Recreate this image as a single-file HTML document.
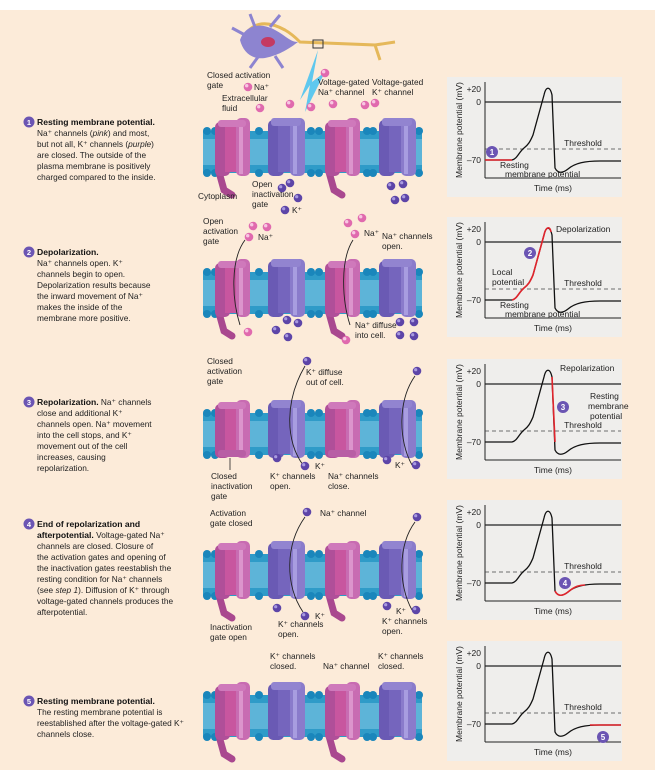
<!DOCTYPE html>
<html><head><meta charset="utf-8"><style>
html,body{margin:0;padding:0;background:#fff;}
svg{display:block;font-family:"Liberation Sans",Arial,sans-serif;}
.t{font-size:8.3px;fill:#222;}
.b{font-size:8.6px;font-weight:bold;fill:#111;}
.s{font-size:8.3px;fill:#222;}
.g{font-size:8.5px;fill:#222;}
</style></head><body>
<svg width="670" height="784" viewBox="0 0 670 784" xmlns="http://www.w3.org/2000/svg">
<defs>
  <g id="mem">
    <rect x="203" y="131" width="219" height="42" fill="#2f9bc8"/>
    <rect x="203" y="139" width="219" height="26" fill="#5db4d8"/>
    <g fill="#1a86bb">
      <circle cx="207" cy="131" r="4"/><circle cx="215" cy="131" r="4"/><circle cx="259" cy="131" r="4"/><circle cx="311" cy="131" r="4"/><circle cx="319" cy="131" r="4"/><circle cx="367" cy="131" r="4"/><circle cx="373" cy="131" r="4"/><circle cx="419" cy="131" r="4"/>
      <circle cx="207" cy="173" r="4"/><circle cx="215" cy="173" r="4"/><circle cx="259" cy="173" r="4"/><circle cx="311" cy="173" r="4"/><circle cx="319" cy="173" r="4"/><circle cx="367" cy="173" r="4"/><circle cx="373" cy="173" r="4"/><circle cx="419" cy="173" r="4"/>
    </g>
  </g>
  <g id="na">
    <path d="M4 54 L9 72 L17 77" stroke="#a9488f" stroke-width="7" fill="none" stroke-linecap="round"/>
    <rect x="0" y="4" width="15" height="54" rx="5" fill="#b04f99"/>
    <rect x="10" y="8" width="15" height="46" fill="#c8569f"/>
    <rect x="21" y="0" width="14" height="58" rx="5" fill="#c86cb2"/>
    <rect x="24" y="2" width="4" height="54" fill="#dc95cc"/>
    <rect x="3" y="2" width="28" height="7" rx="3" fill="#cf79bb"/>
  </g>
  <g id="nac">
    <rect x="0" y="4" width="15" height="54" rx="5" fill="#b04f99"/>
    <rect x="10" y="8" width="15" height="46" fill="#c8569f"/>
    <rect x="21" y="0" width="14" height="58" rx="5" fill="#c86cb2"/>
    <rect x="24" y="2" width="4" height="54" fill="#dc95cc"/>
    <rect x="3" y="2" width="28" height="7" rx="3" fill="#cf79bb"/>
    <rect x="3" y="50" width="28" height="7" rx="3" fill="#b85ea5"/>
  </g>
  <g id="k">
    <rect x="0" y="2" width="16" height="56" rx="5" fill="#6a5ab4"/>
    <rect x="10" y="8" width="17" height="46" fill="#7565bd"/>
    <rect x="22" y="0" width="15" height="58" rx="5" fill="#8a7bcb"/>
    <rect x="25" y="2" width="4" height="54" fill="#a89de0"/>
    <rect x="3" y="0" width="30" height="8" rx="3" fill="#9284d0"/>
  </g>
  <g id="graph">
    <rect x="447" y="77" width="175" height="120" fill="#efeeec"/>
    <line x1="485" y1="82" x2="485" y2="178" stroke="#222" stroke-width="1"/>
    <line x1="485" y1="178" x2="621" y2="178" stroke="#222" stroke-width="1"/>
    <line x1="485" y1="102" x2="621" y2="102" stroke="#222" stroke-width="1.2"/>
    <line x1="485" y1="149" x2="621" y2="149" stroke="#444" stroke-width="0.8" stroke-dasharray="4,3"/>
    <path d="M485 160 L512 160 C517 159 519 152 524 148 C528 145 530 142 533 135 L544 95 C546 86 550 86 552 95 L555 168 C558 174 563 173 568 169 C575 163 585 161 600 161 L621 161" stroke="#111" stroke-width="1.3" fill="none"/>
    <text x="481" y="92" text-anchor="end" class="g">+20</text>
    <text x="481" y="105" text-anchor="end" class="g">0</text>
    <text x="481" y="163" text-anchor="end" class="g">–70</text>
    <text x="553" y="191" text-anchor="middle" class="g">Time (ms)</text>
    <text transform="translate(462,130) rotate(-90)" text-anchor="middle" class="g">Membrane potential (mV)</text>
    <text x="583" y="146" text-anchor="middle" class="g">Threshold</text>
  </g>
  <g id="pi"><circle r="4.3" fill="#e06aae"/><circle r="1.7" cx="-1.3" cy="-1.3" fill="#f8c7e2"/></g>
  <g id="ki"><circle r="4.3" fill="#5d45a8"/><circle r="1.6" cx="-1.3" cy="-1.3" fill="#a99be0"/></g>
</defs>
<rect x="0" y="10" width="655" height="760" fill="#fcebd9"/>

<!-- neuron -->
<path d="M245 35 C255 20 270 22 285 30 C292 34 296 38 300 42 L375 45 L380 60 M375 45 L395 42" stroke="#e5b85a" stroke-width="3" fill="none"/>
<path d="M240 40 C245 25 260 22 275 30 C285 35 290 42 298 42 C290 48 280 55 265 58 C252 60 243 52 240 40 Z" fill="#8d84d0"/>
<path d="M245 35 L232 28 M255 27 L250 14 M270 27 L280 15 M258 57 L250 68 M275 56 L283 68" stroke="#8d84d0" stroke-width="3"/>
<ellipse cx="268" cy="42" rx="7" ry="5" fill="#c43a62"/>
<rect x="313" y="40" width="10" height="8" fill="none" stroke="#333" stroke-width="1"/>
<path d="M318 50 L300 100 L310 85 L305 112 L325 72 L312 82 Z" fill="#5fc8ee"/>

<!-- rows -->
<g><use href="#mem"/><use href="#na" x="215" y="118"/><use href="#k" x="268" y="118"/><use href="#na" x="325" y="118"/><use href="#k" x="379" y="118"/></g>
<g transform="translate(0,141)"><use href="#mem"/><use href="#na" x="215" y="118"/><use href="#k" x="268" y="118"/><use href="#na" x="325" y="118"/><use href="#k" x="379" y="118"/></g>
<g transform="translate(0,282)"><use href="#mem"/><use href="#nac" x="215" y="118"/><use href="#k" x="268" y="118"/><use href="#nac" x="325" y="118"/><use href="#k" x="379" y="118"/></g>
<g transform="translate(0,423)"><use href="#mem"/><use href="#na" x="215" y="118"/><use href="#k" x="268" y="118"/><use href="#na" x="325" y="118"/><use href="#k" x="379" y="118"/></g>
<g transform="translate(0,564)"><use href="#mem"/><use href="#na" x="215" y="118"/><use href="#k" x="268" y="118"/><use href="#na" x="325" y="118"/><use href="#k" x="379" y="118"/></g>

<!-- graphs -->
<use href="#graph"/>
<path d="M485 160 L512 160" stroke="#e0242c" stroke-width="1.6"/>
<text x="500" y="168" class="g">Resting</text><text x="505" y="177" class="g">membrane potential</text>
<circle cx="492" cy="152" r="6" fill="#6b55b3"/><text x="492" y="155" text-anchor="middle" style="font-size:8px;fill:#fff;font-weight:bold">1</text>

<g transform="translate(0,140)"><use href="#graph"/>
<path d="M512 160 C517 159 519 152 524 148 C528 145 530 142 533 135 L544 95 C546 86 550 86 551 92" stroke="#e0242c" stroke-width="1.6" fill="none"/>
<text x="500" y="168" class="g">Resting</text><text x="505" y="177" class="g">membrane potential</text>
<text x="492" y="135" class="g">Local</text><text x="492" y="145" class="g">potential</text>
<text x="556" y="92" class="g">Depolarization</text>
<circle cx="530" cy="113" r="6" fill="#6b55b3"/><text x="530" y="116" text-anchor="middle" style="font-size:8px;fill:#fff;font-weight:bold">2</text></g>

<g transform="translate(0,282)"><use href="#graph"/>
<path d="M552 95 L555 160" stroke="#e0242c" stroke-width="1.6" fill="none"/>
<text x="560" y="89" class="g">Repolarization</text>
<text x="590" y="117" class="g">Resting</text><text x="588" y="127" class="g">membrane</text><text x="590" y="137" class="g">potential</text>
<circle cx="563" cy="125" r="6" fill="#6b55b3"/><text x="563" y="128" text-anchor="middle" style="font-size:8px;fill:#fff;font-weight:bold">3</text></g>

<g transform="translate(0,423)"><use href="#graph"/>
<path d="M555 168 C558 174 563 173 568 169 C575 163 580 162 585 162" stroke="#e0242c" stroke-width="1.6" fill="none"/>
<circle cx="565" cy="160" r="6" fill="#6b55b3"/><text x="565" y="163" text-anchor="middle" style="font-size:8px;fill:#fff;font-weight:bold">4</text></g>

<g transform="translate(0,564)"><use href="#graph"/>
<path d="M590 161 L621 161" stroke="#e0242c" stroke-width="1.6"/>
<circle cx="603" cy="173" r="6" fill="#6b55b3"/><text x="603" y="176" text-anchor="middle" style="font-size:8px;fill:#fff;font-weight:bold">5</text></g>

<!-- left text -->
<g>
<circle cx="29" cy="122" r="5.5" fill="#6b55b3"/><text x="29" y="125" text-anchor="middle" style="font-size:7.5px;fill:#fff;font-weight:bold">1</text>
<text x="37" y="125" class="b">Resting membrane potential.</text>
<text x="37" y="136" class="t">Na⁺ channels (<tspan font-style="italic">pink</tspan>) and most,</text>
<text x="37" y="147" class="t">but not all, K⁺ channels (<tspan font-style="italic">purple</tspan>)</text>
<text x="37" y="158" class="t">are closed. The outside of the</text>
<text x="37" y="169" class="t">plasma membrane is positively</text>
<text x="37" y="180" class="t">charged compared to the inside.</text>

<circle cx="29" cy="252" r="5.5" fill="#6b55b3"/><text x="29" y="255" text-anchor="middle" style="font-size:7.5px;fill:#fff;font-weight:bold">2</text>
<text x="37" y="255" class="b">Depolarization.</text>
<text x="37" y="266" class="t">Na⁺ channels open. K⁺</text>
<text x="37" y="277" class="t">channels begin to open.</text>
<text x="37" y="288" class="t">Depolarization results because</text>
<text x="37" y="299" class="t">the inward movement of Na⁺</text>
<text x="37" y="310" class="t">makes the inside of the</text>
<text x="37" y="321" class="t">membrane more positive.</text>

<circle cx="29" cy="402" r="5.5" fill="#6b55b3"/><text x="29" y="405" text-anchor="middle" style="font-size:7.5px;fill:#fff;font-weight:bold">3</text>
<text x="37" y="405" class="b">Repolarization.<tspan class="t" font-weight="normal">  Na⁺ channels</tspan></text>
<text x="37" y="416" class="t">close and additional K⁺</text>
<text x="37" y="427" class="t">channels open. Na⁺ movement</text>
<text x="37" y="438" class="t">into the cell stops, and K⁺</text>
<text x="37" y="449" class="t">movement out of the cell</text>
<text x="37" y="460" class="t">increases, causing</text>
<text x="37" y="471" class="t">repolarization.</text>

<circle cx="29" cy="524" r="5.5" fill="#6b55b3"/><text x="29" y="527" text-anchor="middle" style="font-size:7.5px;fill:#fff;font-weight:bold">4</text>
<text x="37" y="527" class="b">End of repolarization and</text>
<text x="37" y="538" class="b">afterpotential.<tspan class="t" font-weight="normal"> Voltage-gated Na⁺</tspan></text>
<text x="37" y="549" class="t">channels are closed. Closure of</text>
<text x="37" y="560" class="t">the activation gates and opening of</text>
<text x="37" y="571" class="t">the inactivation gates reestablish the</text>
<text x="37" y="582" class="t">resting condition for Na⁺ channels</text>
<text x="37" y="593" class="t">(see <tspan font-style="italic">step 1</tspan>).  Diffusion of K⁺ through</text>
<text x="37" y="604" class="t">voltage-gated channels produces the</text>
<text x="37" y="615" class="t">afterpotential.</text>

<circle cx="29" cy="701" r="5.5" fill="#6b55b3"/><text x="29" y="704" text-anchor="middle" style="font-size:7.5px;fill:#fff;font-weight:bold">5</text>
<text x="37" y="704" class="b">Resting membrane potential.</text>
<text x="37" y="715" class="t">The resting membrane potential is</text>
<text x="37" y="726" class="t">reestablished after the voltage-gated K⁺</text>
<text x="37" y="737" class="t">channels close.</text>
</g>

<!-- membrane labels -->
<g class="s">
<text x="207" y="78" class="s">Closed activation</text><text x="207" y="88" class="s">gate</text>
<use href="#pi" x="248" y="87"/><text x="254" y="90" class="s">Na⁺</text>
<text x="222" y="101" class="s">Extracellular</text><text x="222" y="111" class="s">fluid</text>
<text x="318" y="85" class="s">Voltage-gated</text><text x="318" y="95" class="s">Na⁺ channel</text>
<text x="372" y="85" class="s">Voltage-gated</text><text x="372" y="95" class="s">K⁺ channel</text>
<use href="#pi" x="260" y="108"/><use href="#pi" x="290" y="104"/><use href="#pi" x="311" y="107"/><use href="#pi" x="333" y="104"/><use href="#pi" x="365" y="105"/><use href="#pi" x="375" y="103"/><use href="#pi" x="325" y="73"/>
<text x="198" y="199" class="s">Cytoplasm</text>
<text x="252" y="187" class="s">Open</text><text x="252" y="197" class="s">inactivation</text><text x="252" y="207" class="s">gate</text>
<use href="#ki" x="282" y="188"/><use href="#ki" x="290" y="183"/><use href="#ki" x="298" y="198"/><use href="#ki" x="285" y="210"/><text x="292" y="213" class="s">K⁺</text>
<use href="#ki" x="391" y="186"/><use href="#ki" x="403" y="184"/><use href="#ki" x="395" y="200"/><use href="#ki" x="405" y="198"/>

<text x="203" y="224" class="s">Open</text><text x="203" y="234" class="s">activation</text><text x="203" y="244" class="s">gate</text>
<use href="#pi" x="253" y="226"/><use href="#pi" x="267" y="227"/><use href="#pi" x="249" y="237"/><text x="258" y="240" class="s">Na⁺</text>
<use href="#pi" x="348" y="223"/><use href="#pi" x="362" y="218"/><use href="#pi" x="355" y="234"/><text x="364" y="236" class="s">Na⁺</text>
<text x="382" y="239" class="s">Na⁺ channels</text><text x="382" y="249" class="s">open.</text>
<path d="M245 240 C230 260 232 300 240 325" stroke="#222" fill="none" stroke-width="0.9"/>
<path d="M353 240 C340 260 342 300 350 325" stroke="#222" fill="none" stroke-width="0.9"/>
<use href="#pi" x="248" y="332"/><use href="#pi" x="346" y="340"/>
<use href="#ki" x="287" y="320"/><use href="#ki" x="298" y="323"/><use href="#ki" x="276" y="330"/><use href="#ki" x="288" y="337"/>
<use href="#ki" x="400" y="322"/><use href="#ki" x="414" y="322"/><use href="#ki" x="400" y="335"/><use href="#ki" x="414" y="336"/>
<text x="355" y="328" class="s">Na⁺ diffuse</text><text x="355" y="338" class="s">into cell.</text>

<text x="207" y="364" class="s">Closed</text><text x="207" y="374" class="s">activation</text><text x="207" y="384" class="s">gate</text>
<use href="#ki" x="307" y="361"/><text x="306" y="375" class="s">K⁺ diffuse</text><text x="306" y="385" class="s">out of cell.</text>
<use href="#ki" x="417" y="371"/>
<path d="M303 465 C285 440 285 400 305 366" stroke="#222" fill="none" stroke-width="0.9"/>
<path d="M412 465 C398 440 398 400 415 376" stroke="#222" fill="none" stroke-width="0.9"/>
<line x1="230" y1="458" x2="230" y2="470" stroke="#222" stroke-width="0.8"/>
<use href="#ki" x="277" y="458"/><use href="#ki" x="305" y="466"/><text x="315" y="469" class="s">K⁺</text>
<use href="#ki" x="387" y="460"/><use href="#ki" x="416" y="465"/><text x="395" y="468" class="s">K⁺</text>
<text x="211" y="479" class="s">Closed</text><text x="211" y="489" class="s">inactivation</text><text x="211" y="499" class="s">gate</text>
<text x="270" y="479" class="s">K⁺ channels</text><text x="270" y="489" class="s">open.</text>
<text x="328" y="479" class="s">Na⁺ channels</text><text x="328" y="489" class="s">close.</text>

<text x="210" y="516" class="s">Activation</text><text x="210" y="526" class="s">gate closed</text>
<text x="320" y="516" class="s">Na⁺ channel</text>
<use href="#ki" x="307" y="512"/><use href="#ki" x="417" y="517"/>
<path d="M303 612 C285 585 285 545 305 517" stroke="#222" fill="none" stroke-width="0.9"/>
<path d="M412 610 C398 585 398 545 415 522" stroke="#222" fill="none" stroke-width="0.9"/>
<use href="#ki" x="277" y="608"/><use href="#ki" x="305" y="616"/><text x="315" y="619" class="s">K⁺</text>
<use href="#ki" x="387" y="606"/><use href="#ki" x="416" y="610"/><text x="396" y="614" class="s">K⁺</text>
<text x="210" y="630" class="s">Inactivation</text><text x="210" y="640" class="s">gate open</text>
<text x="278" y="627" class="s">K⁺ channels</text><text x="278" y="637" class="s">open.</text>
<text x="382" y="624" class="s">K⁺ channels</text><text x="382" y="634" class="s">open.</text>

<text x="270" y="659" class="s">K⁺ channels</text><text x="270" y="669" class="s">closed.</text>
<text x="323" y="669" class="s">Na⁺ channel</text>
<text x="378" y="659" class="s">K⁺ channels</text><text x="378" y="669" class="s">closed.</text>
</g>
</svg>
</body></html>
